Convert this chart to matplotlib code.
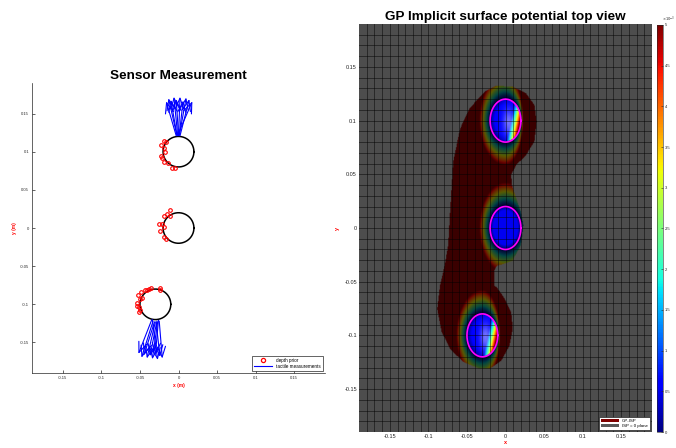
import numpy as np
import matplotlib.pyplot as plt
from matplotlib.path import Path
from matplotlib.patches import Patch
from matplotlib.lines import Line2D
from matplotlib import cm, colors

plt.rcParams['font.family'] = ['Liberation Sans', 'DejaVu Sans']

# objects (circle centres, radius in m)
obj_x = [0.0, 0.0, -0.03]
obj_y = [0.1, 0.0, -0.1]
obj_r = 0.02
obj_hot = [True, False, True]   # hot edge on the right side of the object

# depth prior points
prior_x = [-0.0233, -0.0185, -0.0164, -0.019, -0.0177, -0.0233, -0.0215, -0.0194, -0.0142, -0.009, -0.0043,
           -0.0112, -0.0151, -0.0194, -0.0108, -0.0254, -0.022, -0.019, -0.0245, -0.0185, -0.0168,
           -0.0241, -0.0245, -0.0353, -0.0413, -0.0491, -0.0526, -0.0478, -0.05, -0.0539, -0.0543,
           -0.0513, -0.05, -0.0517, -0.0439, -0.0384]
prior_y = [0.1088, 0.1136, 0.1127, 0.1053, 0.0993, 0.0946, 0.0911, 0.0859, 0.0851, 0.079, 0.079,
           0.0237, 0.0177, 0.016, 0.016, 0.0047, 0.0052, 0.0013, -0.0039, -0.0112, -0.0138,
           -0.0786, -0.0812, -0.079, -0.0812, -0.0838, -0.0872, -0.0915, -0.0933, -0.0984, -0.1028,
           -0.1036, -0.1071, -0.1097, -0.0816, -0.0803]

# tactile measurements (tail -> tip)
tact_x0 = [-0.003, -0.002, -0.002, -0.001, 0.0, 0.0, 0.001, 0.001, 0.002, -0.001,
           -0.035, -0.033, -0.031, -0.030, -0.028, -0.027, -0.026, -0.034, -0.029, -0.025]
tact_y0 = [0.121, 0.121, 0.122, 0.121, 0.122, 0.121, 0.122, 0.121, 0.121, 0.122,
           -0.121, -0.122, -0.123, -0.123, -0.122, -0.123, -0.121, -0.120, -0.124, -0.122]
tact_x1 = [-0.016, -0.013, -0.010, -0.006, -0.003, 0.002, 0.006, 0.010, 0.014, 0.018,
           -0.052, -0.048, -0.045, -0.041, -0.037, -0.034, -0.030, -0.027, -0.024, -0.021]
tact_y1 = [0.166, 0.170, 0.168, 0.172, 0.169, 0.172, 0.167, 0.171, 0.169, 0.166,
           -0.165, -0.170, -0.167, -0.171, -0.168, -0.172, -0.166, -0.173, -0.169, -0.171]

# outline of the GP implicit surface region
blob_x = [-0.012, 0.0095, 0.0267, 0.0375, 0.0405, 0.0375, 0.0267, 0.0138, 0.0073, 0.0086, 0.014, 0.020,
          0.0233, 0.020, 0.009, -0.012, -0.0142, -0.0142, -0.010, -0.0013, 0.0073, 0.0095, 0.0052,
          -0.0056, -0.0207, -0.0336, -0.055, -0.072, -0.083, -0.0887, -0.085, -0.079, -0.0745, -0.072,
          -0.068, -0.059, -0.0465, -0.027]
blob_y = [0.132, 0.131, 0.125, 0.114, 0.0986, 0.080, 0.0675, 0.058, 0.049, 0.039, 0.027, 0.0146,
          0.002, -0.0165, -0.031, -0.036, -0.040, -0.054, -0.057, -0.066, -0.079, -0.094, -0.110,
          -0.124, -0.1315, -0.1315, -0.125, -0.113, -0.097, -0.0755, -0.054, -0.035, -0.0165, 0.0146,
          0.061, 0.092, 0.111, 0.1266]

ticks = [-0.15, -0.1, -0.05, 0, 0.05, 0.1, 0.15]
tick_labels = ['-0.15', '-0.1', '-0.05', '0', '0.05', '0.1', '0.15']
cbar_ticks = [0, 0.5, 1, 1.5, 2, 2.5, 3, 3.5, 4, 4.5, 5]
vmax = 5e-3
lim = 0.19

fig = plt.figure(figsize=(6.76, 4.48), dpi=100)
W, H = 676.0, 448.0


def px_axes(x0, y0, x1, y1):
    return fig.add_axes([x0 / W, 1 - y1 / H, (x1 - x0) / W, (y1 - y0) / H])


# ---------------- sensor measurement ----------------
ax1 = px_axes(32, 83, 325, 373)
th = np.linspace(0, 2 * np.pi, 200)
for cx, cy in zip(obj_x, obj_y):
    ax1.plot(cx + obj_r * np.cos(th), cy + obj_r * np.sin(th), color='k', lw=1.1)
ax1.plot(prior_x, prior_y, 'o', mfc='none', mec='red', ms=2.6, mew=0.8)
for x0, y0, x1, y1 in zip(tact_x0, tact_y0, tact_x1, tact_y1):
    ax1.annotate('', xy=(x1, y1), xytext=(x0, y0),
                 arrowprops=dict(arrowstyle='->,head_length=0.75,head_width=0.3', color='blue',
                                 lw=0.8, shrinkA=0, shrinkB=0, mutation_scale=10))
ax1.set_xlim(-lim, lim)
ax1.set_ylim(-lim, lim)
ax1.set_xticks(ticks)
ax1.set_xticklabels(tick_labels)
ax1.set_yticks(ticks)
ax1.set_yticklabels(tick_labels)
ax1.tick_params(labelsize=3, direction='in', length=2, width=0.5, colors='#262626', pad=2)
for s in ['top', 'right']:
    ax1.spines[s].set_visible(False)
for s in ['left', 'bottom']:
    ax1.spines[s].set_linewidth(0.5)
    ax1.spines[s].set_color('#262626')
ax1.set_title('Sensor Measurement', fontsize=9.7, fontweight='bold', pad=3)
ax1.set_xlabel('x (m)', color='red', fontsize=3.5, fontweight='bold', labelpad=2)
ax1.set_ylabel('y (m)', color='red', fontsize=3.5, fontweight='bold', labelpad=2)
h1 = [Line2D([], [], ls='none', marker='o', mfc='none', mec='red', ms=3, mew=0.9),
      Line2D([], [], color='blue', lw=0.8)]
ax1.legend(h1, ['depth prior', 'tactile measurements'], loc='lower right', fontsize=3.3,
           fancybox=False, edgecolor='#262626', framealpha=1, borderpad=0.4, handlelength=4,
           labelspacing=0.2).get_frame().set_linewidth(0.5)

# ---------------- GP implicit surface potential ----------------
ax2 = px_axes(359, 24, 652, 432)
ax2.set_facecolor('#4d4d4d')

xs = np.linspace(-lim, lim, 420)
ys = np.linspace(-lim, lim, 560)
X, Y = np.meshgrid(xs, ys)
val = np.ones_like(X)
shade = np.full_like(X, 0.46)
glow = np.zeros_like(X)

for cx, cy, hot in zip(obj_x, obj_y, obj_hot):
    dx, dy = X - cx, Y - cy
    d = np.hypot(dx, dy) + 1e-9
    ux, uy = dx / d, dy / d
    wx = np.where((ux > 0) & hot, 0.003, 0.014)
    wy = 0.022
    k = np.sqrt((ux / (obj_r + wx)) ** 2 + (uy / (obj_r + wy)) ** 2)
    t = np.clip((d - obj_r) * k / (1 - obj_r * k), 0, 1)
    ring = 0.1 + 0.9 * t
    ring_shade = 0.2 + 0.26 * t
    outside = (d > obj_r) & (ring < val)
    val = np.where(outside, ring, val)
    shade = np.where(outside, ring_shade, shade)

    inside = d <= obj_r
    a, b = dx / obj_r, dy / obj_r
    rho = d / obj_r
    if hot:
        u = a - 0.3 * b
        h = np.clip((u - 0.35) / 0.6, 0, 1)
        v_in = 0.12 + 0.88 * h ** 1.1
        g = 0.45 * np.exp(-((a - 0.2) ** 2 / 0.12 + (b + 0.1) ** 2 / 0.35))
        s_in = 1.0 - 0.5 * np.clip((rho - 0.7) / 0.3, 0, 1) * np.clip(0.4 - a, 0, 1)
    else:
        v_in = np.full_like(X, 0.1)
        g = np.zeros_like(X)
        s_in = 1.0 - 0.55 * np.clip((rho - 0.8) / 0.2, 0, 1)
    val = np.where(inside, v_in, val)
    shade = np.where(inside, s_in, shade)
    glow = np.where(inside, g, glow)

rgb = cm.jet(np.clip(val, 0, 1))[..., :3] * shade[..., None]
rgb = rgb * (1 - glow[..., None]) + glow[..., None]
blob = Path(np.column_stack([blob_x, blob_y]))
mask = blob.contains_points(np.column_stack([X.ravel(), Y.ravel()])).reshape(X.shape)
img = np.dstack([rgb, mask.astype(float)])
ax2.imshow(img, extent=(-lim, lim, -lim, lim), origin='lower', aspect='auto',
           interpolation='bilinear', zorder=1)

# ISP = 0 plane mesh
grid = np.round(np.arange(-0.18, 0.181, 0.01), 3)
for g_ in grid:
    ax2.axvline(g_, color='black', lw=0.6, alpha=0.55, zorder=2)
    ax2.axhline(g_, color='black', lw=0.6, alpha=0.55, zorder=2)

for cx, cy in zip(obj_x, obj_y):
    ax2.plot(cx + obj_r * np.cos(th), cy + obj_r * np.sin(th), color='#ff00ff', lw=1.2, zorder=3)

ax2.set_xlim(-lim, lim)
ax2.set_ylim(-lim, lim)
ax2.set_xticks(ticks)
ax2.set_xticklabels(tick_labels)
ax2.set_yticks(ticks)
ax2.set_yticklabels(tick_labels)
ax2.tick_params(labelsize=4, length=0, colors='#262626', pad=1.5)
for s in ax2.spines.values():
    s.set_visible(False)
ax2.set_title('GP Implicit surface potential top view', fontsize=9.7, fontweight='bold', pad=3)
ax2.set_xlabel('x', color='red', fontsize=4, fontweight='bold', labelpad=1)
ax2.set_ylabel('y', color='red', fontsize=4, fontweight='bold', labelpad=3)
h2 = [Patch(facecolor='#7f0000', edgecolor='none'), Patch(facecolor='#595959', edgecolor='none')]
ax2.legend(h2, ['GP-ISP', 'ISP = 0 plane'], loc='lower right', fontsize=3.2, fancybox=False,
           edgecolor='#262626', framealpha=1, borderpad=0.4, handlelength=4,
           labelspacing=0.25).get_frame().set_linewidth(0.5)

# colour bar
cax = px_axes(657, 25, 663, 432)
sm = cm.ScalarMappable(norm=colors.Normalize(0, vmax), cmap='jet')
cb = fig.colorbar(sm, cax=cax)
cb.set_ticks([c * 1e-3 for c in cbar_ticks])
cb.set_ticklabels([f'{c:g}' for c in cbar_ticks])
cb.ax.tick_params(labelsize=3, direction='in', length=1.5, width=0.4, colors='#262626', pad=1.5)
cb.outline.set_linewidth(0.4)
cb.outline.set_edgecolor('#262626')
cax.text(0.9, 1.002, r'$\times10^{-3}$', transform=cax.transAxes, fontsize=2.6, color='#262626',
         ha='left', va='bottom')

fig.savefig('out.png', dpi=100)
